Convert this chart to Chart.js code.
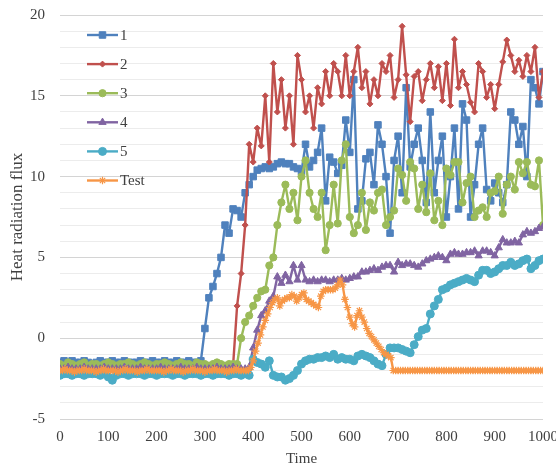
<!DOCTYPE html>
<html>
<head>
<meta charset="utf-8">
<title>Heat radiation flux</title>
<script src="https://cdn.jsdelivr.net/npm/chart.js@4/dist/chart.umd.min.js"></script>
<style>
  html, body { margin: 0; padding: 0; background: #ffffff; }
  #wrap { position: relative; width: 556px; height: 465px; }
</style>
</head>
<body>
<div id="wrap"><canvas id="chart"></canvas></div>
<script>
// Sample grid: runs 1-5 logged 121 samples over 0..1000, the test run every 5 units.
const RUN_SAMPLES = 121;
const TEST_STEP = 5;

const seriesNames = ['1', '2', '3', '4', '5', 'Test'];

const run1 = [
  -1.5,-1.4,-1.5,-1.4,-1.5,-1.5,-1.4,-1.5,-1.6,-1.5,
  -1.4,-1.5,-1.5,-1.4,-1.5,-1.5,-1.4,-1.5,-1.5,-1.5,
  -1.4,-1.5,-1.5,-1.4,-1.5,-1.5,-1.4,-1.5,-1.5,-1.4,
  -1.5,-1.5,-1.4,-1.5,-1.5,-1.4,
  0.6, 2.5, 3.2, 4.0, 5.0,
  7.0, 6.5, 8.0, 7.9, 7.5, 9.0, 9.5, 10.0,
  10.4, 10.5, 10.6, 10.5, 10.6, 10.8, 10.9, 10.8, 10.8, 10.6, 10.5, 10.3,
  12.0, 10.6, 11.0, 11.5, 13.0, 8.5, 11.2, 10.9, 10.2, 10.7,
  13.5, 11.5, 16.0, 8.0, 8.5, 11.1, 11.5, 9.5, 13.2, 12.0,
  10.0, 6.5, 11.0, 12.5, 9.0, 15.5, 10.6, 12.0, 13.0, 11.0,
  8.4, 14.0, 9.0, 11.0, 12.5, 7.5, 10.0, 13.0, 8.0, 14.5,
  13.5, 7.5, 9.5, 12.0, 13.0, 9.2, 8.5, 9.6, 9.0, 8.4,
  9.5, 14.0, 13.5, 12.0, 13.1, 10.0, 16.0, 15.5, 14.5, 16.5
];

const run2 = [
  -1.7,-1.8,-1.7,-1.7,-1.8,-1.7,-1.7,-1.8,-1.7,-1.7,
  -1.8,-1.7,-1.7,-1.7,-1.8,-1.7,-1.7,-1.8,-1.7,-1.7,
  -1.7,-1.8,-1.7,-1.7,-1.8,-1.7,-1.7,-1.7,-1.8,-1.7,
  -1.7,-1.8,-1.7,-1.7,-1.7,-1.8,-1.7,-1.7,-1.8,-1.7,
  -1.7,-1.7,-1.8,-1.7,
  2.0, 4.0, 7.0,
  12.0, 10.9, 13.0, 11.9, 15.0, 10.9, 17.0, 14.0, 16.0, 13.0,
  15.0, 12.0, 17.5, 16.0, 14.0, 15.0, 13.0, 15.5, 14.5, 16.5,
  15.0, 17.0, 16.5, 15.0, 17.5, 15.0, 16.5, 18.0, 15.5, 16.5,
  14.5, 16.0, 15.0,
  17.0, 16.5, 17.5, 14.9, 16.0, 19.3, 16.3, 13.4, 16.2, 16.5,
  14.7, 16.0, 17.0, 15.5, 16.8, 14.7, 17.0, 14.4, 18.5, 15.5,
  16.5, 15.7, 14.6, 14.0, 17.0, 16.5, 14.9, 15.7, 14.2, 15.7,
  17.1, 18.45, 17.5, 16.5, 17.2, 16.2, 17.5, 16.5, 18.0, 14.9,
  16.5
];

const run3 = [
  -1.6,-1.7,-1.5,-1.6,-1.7,-1.6,-1.5,-1.7,-1.6,-1.6,
  -1.7,-1.6,-1.5,-1.6,-1.7,-1.6,-1.6,-1.5,-1.6,-1.7,
  -1.6,-1.5,-1.6,-1.7,-1.6,-1.6,-1.5,-1.6,-1.7,-1.6,
  -1.5,-1.6,-1.6,-1.7,-1.5,-1.6,-1.6,-1.7,-1.6,-1.5,
  -1.6,-1.7,-1.6,-1.6,
  -1.6, 0.0, 1.0, 1.4, 2.0, 2.5, 2.9, 3.0, 4.5, 5.0,
  7.0, 8.4, 9.5, 8.0, 9.0, 7.3, 10.0, 11.0, 9.0, 8.0,
  7.5, 9.0, 5.45, 7.0, 9.5, 7.1, 11.0, 12.0, 7.5, 6.5,
  7.0, 9.0, 6.7, 8.4, 7.9, 9.0, 9.2, 7.0, 7.5, 7.9,
  10.5, 10.1, 8.5, 10.9, 10.5, 8.0, 9.5, 7.8, 10.2, 7.3,
  8.5, 7.0, 10.5, 10.1, 10.9, 10.9, 8.4, 9.6, 10.0, 7.5,
  7.9, 8.1, 7.5, 9.0, 9.1, 10.0, 7.7, 9.5, 10.0, 9.2,
  10.9, 10.2, 10.9, 9.5, 9.4, 11.0, 7.0
];

const run4 = [
  -1.9,-1.9,-1.8,-1.9,-1.9,-1.9,-1.8,-1.9,-1.9,-1.9,
  -1.9,-1.8,-1.9,-1.9,-1.9,-1.9,-1.8,-1.9,-1.9,-1.9,
  -1.8,-1.9,-1.9,-1.9,-1.9,-1.8,-1.9,-1.9,-1.9,-1.9,
  -1.8,-1.9,-1.9,-1.9,-1.8,-1.9,-1.9,-1.9,-1.9,-1.8,
  -1.9,-1.9,-1.9,-1.8,-1.9,-1.9,-1.9,
  -1.8, -0.6, 0.5, 1.4, 1.7, 2.3, 2.6, 3.8, 3.4, 3.9,
  3.5, 4.5, 3.6, 4.5, 3.6, 3.5, 3.6, 3.5, 3.6, 3.6,
  3.5, 3.6, 3.6, 3.7, 3.6, 3.7, 3.8, 3.8,
  4.1, 4.1, 4.2, 4.3, 4.2, 4.4, 4.5, 4.5, 4.1, 4.7,
  4.5, 4.6, 4.6, 4.5, 4.4, 4.6, 4.8, 4.9, 5.0, 5.1,
  5.0, 4.8, 5.2, 5.3, 5.2, 5.2, 5.3, 5.3, 5.4, 5.1,
  5.4, 5.4, 5.3, 5.1, 5.6, 6.1, 5.9, 5.9, 6.0, 5.9,
  6.4, 6.6, 6.5, 6.6, 6.8, 6.9
];

const run5 = [
  -2.3,-2.2,-2.2,-2.3,-2.2,-2.2,-2.3,-2.2,-2.2,-2.2,
  -2.3,-2.2,-2.4,-2.6,-2.3,-2.2,-2.2,-2.3,-2.2,-2.2,
  -2.2,-2.3,-2.2,-2.2,-2.3,-2.2,-2.2,-2.2,-2.3,-2.2,
  -2.2,-2.3,-2.2,-2.2,-2.2,-2.3,-2.2,-2.2,-2.3,-2.2,
  -2.2,-2.2,-2.3,-2.2,-2.2,-2.3,
  -2.2, -2.3, -1.3, -1.5, -1.6, -1.8, -1.4, -2.3, -2.4, -2.4,
  -2.6, -2.5, -2.3, -2.0, -1.6, -1.4, -1.3, -1.3, -1.2, -1.2,
  -1.1, -1.2, -1.0, -1.3, -1.2, -1.3, -1.3, -1.4, -1.1, -1.0,
  -1.1, -1.2, -1.4, -1.6, -1.7, -1.0, -0.6, -0.6, -0.6, -0.7,
  -0.8, -0.9, -0.4, 0.1, 0.5, 0.6, 1.5, 2.0, 2.4, 3.0,
  3.1, 3.3, 3.4, 3.5, 3.6, 3.7, 3.6, 3.5, 3.9, 4.2,
  4.2, 4.0, 4.1, 4.3, 4.5, 4.5, 4.7, 4.5, 4.6, 4.8,
  4.9, 4.3, 4.5, 4.8, 4.9
];

const testRun = [
  -2.0,-2.0,-1.9,-2.0,-2.0,-2.0,-2.1,-2.0,-2.0,-2.0,
  -1.9,-2.0,-2.0,-2.0,-2.0,-2.1,-2.0,-2.0,-1.9,-2.0,
  -2.0,-2.0,-2.0,-2.0,-2.1,-2.0,-2.0,-1.9,-2.0,-2.0,
  -2.0,-2.0,-2.1,-2.0,-2.0,-2.0,-1.9,-2.0,-2.0,-2.0,
  -2.0,-2.0,-2.0,-2.1,-2.0,-2.0,-1.9,-2.0,-2.0,-2.0,
  -2.0,-2.1,-2.0,-2.0,-2.0,-1.9,-2.0,-2.0,-2.0,-2.0,
  -2.1,-2.0,-2.0,-2.0,-1.9,-2.0,-2.0,-2.0,-2.0,-2.1,
  -2.0,-2.0,-2.0,-1.9,-2.0,-2.0,-2.0,-2.0,-2.0,
  -1.8, -1.4, -0.8, -0.3, 0.2, 0.7, 1.1, 1.5, 1.9, 2.2,
  2.4, 2.5, 2.0, 2.3, 2.4, 2.5, 2.5, 2.7, 2.6, 2.3,
  2.5, 2.7, 2.8, 2.4, 2.3, 2.2, 2.1, 2.0, 1.9, 2.6,
  2.9, 3.0, 3.0, 3.0, 3.0, 3.1, 3.3, 3.6, 3.3, 2.4,
  1.9, 1.3, 0.9, 0.7, 1.4, 1.7, 1.3, 1.0, 0.6, 0.3,
  0.1, -0.1, -0.3, -0.5, -0.7, -0.9, -1.0, -1.1, -1.2, -2.0,
  -2.0,-2.0,-2.0,-2.0,-2.0,-2.0,-2.0,-2.0,-2.0,-2.0,
  -2.0,-2.0,-2.0,-2.0,-2.0,-2.0,-2.0,-2.0,-2.0,-2.0,
  -2.0,-2.0,-2.0,-2.0,-2.0,-2.0,-2.0,-2.0,-2.0,-2.0,
  -2.0,-2.0,-2.0,-2.0,-2.0,-2.0,-2.0,-2.0,-2.0,-2.0,
  -2.0,-2.0,-2.0,-2.0,-2.0,-2.0,-2.0,-2.0,-2.0,-2.0,
  -2.0,-2.0,-2.0,-2.0,-2.0,-2.0,-2.0,-2.0,-2.0,-2.0,
  -2.0,-2.0
];

const xTickLabels = [0, 100, 200, 300, 400, 500, 600, 700, 800, 900, 1000];
const yTickLabels = [-5, 0, 5, 10, 15, 20];

// Pair each reading with its sample time.
const runTime = i => i * 1000 / (RUN_SAMPLES - 1);
const toPoints = (values, timeOf) => values.map((v, i) => ({ x: timeOf(i), y: v }));

const FONT = "'Liberation Serif', 'Times New Roman', serif";
const TEXT = '#404040';

const styles = [
  { color: '#4F81BD', pointStyle: 'rect',     radius: 4.6 },
  { color: '#C0504D', pointStyle: 'rectRot',  radius: 3 },
  { color: '#9BBB59', pointStyle: 'circle',   radius: 3.6 },
  { color: '#8064A2', pointStyle: 'triangle', radius: 4.2 },
  { color: '#4BACC6', pointStyle: 'circle',   radius: 4 },
  { color: '#F79646', pointStyle: 'star',     radius: 3.8 }
];

const seriesValues = [run1, run2, run3, run4, run5, testRun];

const datasets = seriesValues.map((values, i) => {
  const s = styles[i];
  const timeOf = i === 5 ? (k => k * TEST_STEP) : runTime;
  return {
    label: seriesNames[i],
    data: toPoints(values, timeOf),
    borderColor: s.color,
    backgroundColor: s.color,
    borderWidth: 2.4,
    borderJoinStyle: 'round',
    pointStyle: s.pointStyle,
    pointRadius: s.radius,
    pointBackgroundColor: s.color,
    pointBorderColor: s.color,
    pointBorderWidth: i === 5 ? 1.2 : 1,
    tension: 0,
    order: 5 - i   // later series drawn on top
  };
});

// Legend drawn inside the plot area, one entry per row.
const insideLegend = {
  id: 'insideLegend',
  afterDraw(chart) {
    const { ctx, chartArea } = chart;
    const x0 = chartArea.left + 27;
    const len = 31;
    ctx.save();
    chart.data.datasets.forEach((ds, i) => {
      const y = chartArea.top + 20 + i * 29.1;
      ctx.strokeStyle = ds.borderColor;
      ctx.lineWidth = ds.borderWidth;
      ctx.lineCap = 'butt';
      ctx.beginPath();
      ctx.moveTo(x0, y);
      ctx.lineTo(x0 + len, y);
      ctx.stroke();
      ctx.fillStyle = ds.pointBackgroundColor;
      ctx.strokeStyle = ds.pointBorderColor;
      ctx.lineWidth = ds.pointBorderWidth;
      Chart.helpers.drawPoint(ctx, {
        pointStyle: ds.pointStyle,
        radius: ds.pointRadius,
        borderWidth: ds.pointBorderWidth,
        rotation: 0
      }, x0 + len / 2, y);
      ctx.fillStyle = TEXT;
      ctx.font = '15px ' + FONT;
      ctx.textAlign = 'left';
      ctx.textBaseline = 'middle';
      ctx.fillText(ds.label, x0 + len + 2, y + 1);
    });
    ctx.restore();
  }
};

const whiteBackground = {
  id: 'whiteBackground',
  beforeDraw(chart) {
    const { ctx, width, height } = chart;
    ctx.save();
    ctx.fillStyle = '#ffffff';
    ctx.fillRect(0, 0, width, height);
    ctx.restore();
  }
};

new Chart(document.getElementById('chart'), {
  type: 'line',
  data: { datasets },
  plugins: [whiteBackground, insideLegend],
  options: {
    responsive: true,
    maintainAspectRatio: false,
    animation: false,
    layout: { padding: 0 },
    plugins: {
      legend: { display: false },
      tooltip: { enabled: false }
    },
    scales: {
      x: {
        type: 'linear',
        min: xTickLabels[0],
        max: xTickLabels[xTickLabels.length - 1],
        afterBuildTicks(scale) {
          scale.ticks = xTickLabels.map(v => ({ value: v }));
        },
        afterFit(scale) {
          scale.height = 46;
          scale.paddingLeft = 0;
          scale.paddingRight = 13;
        },
        grid: { display: false, drawTicks: false },
        border: { display: false },
        ticks: {
          autoSkip: false,
          maxRotation: 0,
          padding: 9,
          color: TEXT,
          font: { family: FONT, size: 15 },
          callback: v => String(v)
        },
        title: {
          display: true,
          text: 'Time',
          color: TEXT,
          padding: { top: 0, bottom: -2 },
          font: { family: FONT, size: 15, lineHeight: 1 }
        }
      },
      y: {
        type: 'linear',
        min: yTickLabels[0],
        max: yTickLabels[yTickLabels.length - 1],
        afterBuildTicks(scale) {
          const ticks = [];
          for (let v = yTickLabels[0]; v <= yTickLabels[yTickLabels.length - 1]; v++) {
            ticks.push({ value: v });
          }
          scale.ticks = ticks;
        },
        afterFit(scale) {
          scale.width = 60;
          scale.paddingTop = 15;
          scale.paddingBottom = 0;
        },
        grid: {
          drawTicks: false,
          lineWidth: 1,
          color: ctx => (yTickLabels.includes(ctx.tick.value) ? '#d4d4d4' : '#ececec')
        },
        border: { display: false },
        ticks: {
          autoSkip: false,
          padding: 15,
          color: TEXT,
          font: { family: FONT, size: 15 },
          callback: v => (yTickLabels.includes(v) ? String(v) : '')
        },
        title: {
          display: true,
          text: 'Heat radiation flux',
          color: TEXT,
          padding: { top: 9, bottom: 0 },
          font: { family: FONT, size: 17, lineHeight: 1 }
        }
      }
    }
  }
});
</script>
</body>
</html>
